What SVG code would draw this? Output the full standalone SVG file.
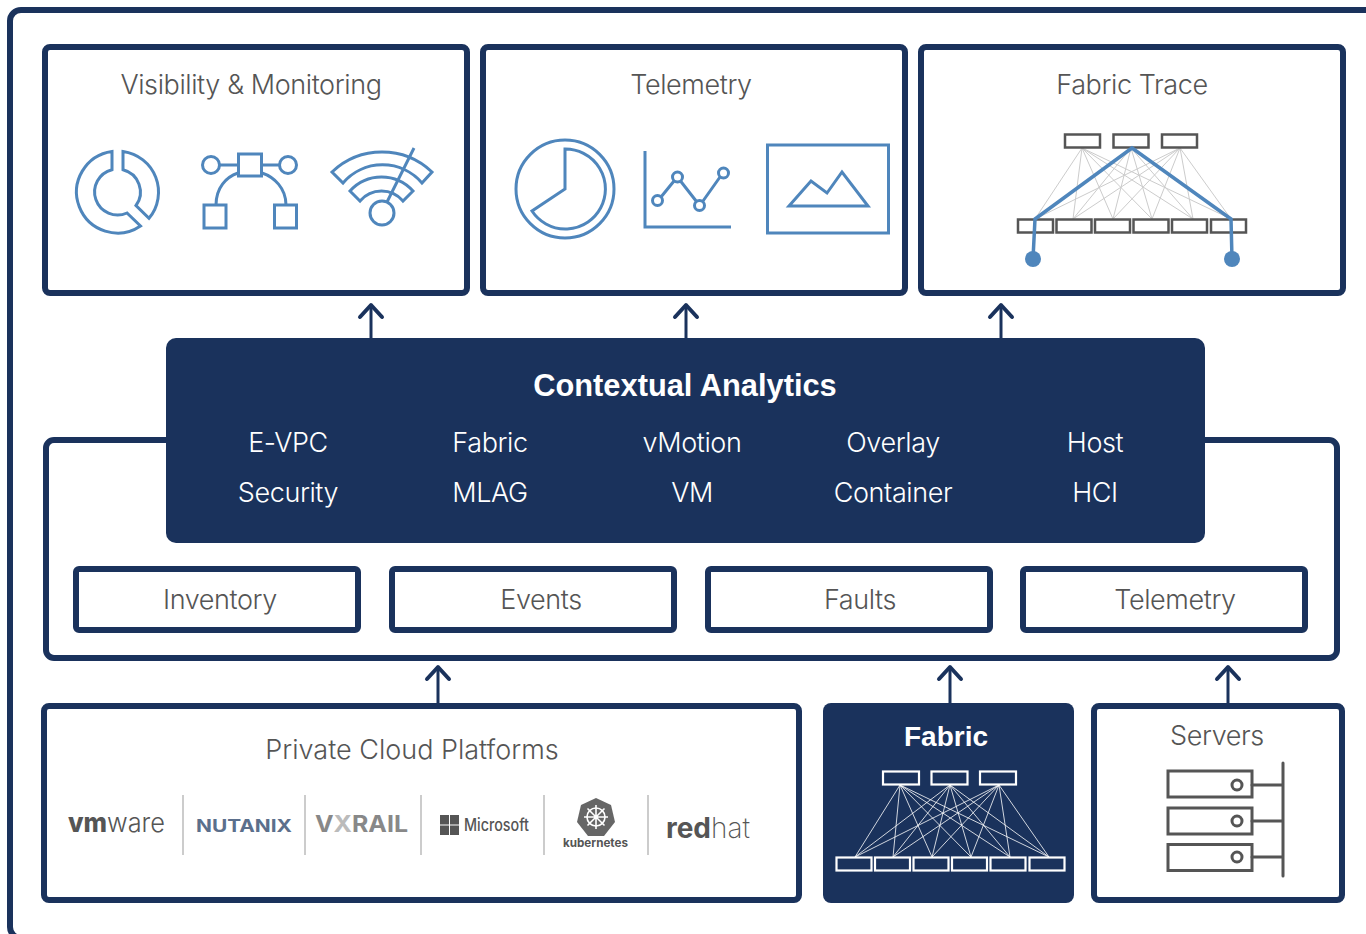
<svg xmlns="http://www.w3.org/2000/svg" width="1366" height="934" viewBox="0 0 1366 934">
<defs>
<marker id="chev" markerUnits="userSpaceOnUse" markerWidth="30" markerHeight="20" viewBox="0 0 30 20" refX="15" refY="3" orient="0"><path d="M4,15 L15,3 L26,15" fill="none" stroke="#1a325c" stroke-width="4" stroke-linecap="round" stroke-linejoin="round"/></marker>
</defs>
<style>
.box{fill:#fff;stroke:#1a325c;stroke-width:6}
.dark{fill:#1a325c}
.t{font-family:"Inter","Liberation Sans",sans-serif;font-weight:300;font-size:27px;letter-spacing:-0.4px;fill:#555;text-anchor:middle}
.w{font-family:"Inter","Liberation Sans",sans-serif;font-weight:300;font-size:27px;letter-spacing:-0.4px;fill:#fff;text-anchor:middle}
.b{font-family:"Liberation Sans",Arial,sans-serif;font-weight:700;fill:#fff;text-anchor:middle}
.ic{fill:none;stroke:#4f86bc;stroke-width:3}
.sw{fill:none;stroke:#555;stroke-width:2.5}
.wsw{fill:none;stroke:#fff;stroke-width:2.2}
.conn{stroke:#1a325c;stroke-width:3;fill:none;marker-end:url(#chev)}
.div{stroke:#ccc;stroke-width:2}
.lg{font-family:"Inter","Liberation Sans",sans-serif}
</style>
<rect width="1366" height="934" fill="#fff"/>
<rect id="frame" x="10" y="10" width="1400" height="928" rx="11" fill="#fff" stroke="#1a325c" stroke-width="6"/>

<g id="connectors">
<line class="conn" x1="371" y1="338" x2="371" y2="305"/>
<line class="conn" x1="686" y1="338" x2="686" y2="305"/>
<line class="conn" x1="1001" y1="338" x2="1001" y2="305"/>
<line class="conn" x1="438" y1="706" x2="438" y2="667"/>
<line class="conn" x1="950" y1="706" x2="950" y2="667"/>
<line class="conn" x1="1228" y1="706" x2="1228" y2="667"/>
</g>

<g id="visibility">
<rect class="box" x="45" y="47" width="422" height="246" rx="5"/>
<text class="t" x="251" y="94">Visibility &amp; Monitoring</text>
<path class="ic" d="M123,151.400 A41,41 0 0 1 149,218.300 L136,205.500 A23,23 0 0 0 123,169.700 Z"/>
<path class="ic" d="M112,151.400 A41,41 0 1 0 140.500,226 L127,213 A23,23 0 1 1 112,169.700 Z"/>
<circle class="ic" cx="211" cy="165" r="8.500"/><circle class="ic" cx="288" cy="165" r="8.500"/>
<rect class="ic" x="238.500" y="154" width="23" height="22"/>
<path class="ic" d="M220,165 H238 M262,165 H280 M216,205 C216,188 226,177 238,173 M262,173 C274,177 286,188 286,205"/>
<rect class="ic" x="204" y="205" width="22" height="23"/><rect class="ic" x="274.500" y="205" width="22" height="23"/>
<path class="ic" d="M332,172 A72.500,72.500 0 0 1 432,172 L422,183 A52,52 0 0 0 343,183 Z"/>
<path class="ic" d="M350,191 A42.400,42.400 0 0 1 413,191 L403,201 A28,28 0 0 0 360,201 Z"/>
<circle class="ic" cx="382" cy="213" r="12"/>
<path class="ic" d="M414,148 L387,202"/>
</g>

<g id="telemetry-top">
<rect class="box" x="483" y="47" width="422" height="246" rx="5"/>
<text class="t" x="691" y="94">Telemetry</text>
<circle class="ic" cx="565" cy="189" r="49"/>
<path class="ic" d="M565,149 A40,40 0 1 1 532,211 L565,189 Z"/>
<path class="ic" d="M645,151 V227 H731"/>
<circle class="ic" cx="657.500" cy="200.500" r="5"/><circle class="ic" cx="677.500" cy="177" r="5"/><circle class="ic" cx="699.500" cy="205.500" r="5"/><circle class="ic" cx="723.500" cy="173" r="5"/>
<path class="ic" d="M661,197 L674,181 M680.500,181 L696.500,201.500 M703,201 L720,177"/>
<rect class="ic" x="767.500" y="145" width="121" height="88"/>
<path class="ic" d="M789,206 L811,181 L827,193 L842,172 L868,206 Z"/>
</g>

<g id="fabric-trace">
<rect class="box" x="921" y="47" width="422" height="246" rx="5"/>
<text class="t" x="1132" y="94">Fabric Trace</text>
<path fill="none" stroke="#ccc" stroke-width="1" d="M1082,148L1035,219M1082,148L1073,219M1082,148L1113,219M1082,148L1152,219M1082,148L1193,219M1082,148L1231,219M1131,148L1035,219M1131,148L1073,219M1131,148L1113,219M1131,148L1152,219M1131,148L1193,219M1131,148L1231,219M1180,148L1035,219M1180,148L1073,219M1180,148L1113,219M1180,148L1152,219M1180,148L1193,219M1180,148L1231,219"/>
<g class="sw">
<rect x="1065" y="134.500" width="35" height="13"/><rect x="1113.500" y="134.500" width="35" height="13"/><rect x="1162" y="134.500" width="35" height="13"/>
<rect x="1018" y="219.500" width="35" height="13"/><rect x="1056.500" y="219.500" width="35" height="13"/><rect x="1095" y="219.500" width="35" height="13"/><rect x="1133.500" y="219.500" width="35" height="13"/><rect x="1172" y="219.500" width="35" height="13"/><rect x="1211" y="219.500" width="35" height="13"/>
</g>
<path fill="none" stroke="#4f86bc" stroke-width="3.500" d="M1033,259 L1035,219 L1132,148 L1231,219 L1232,259"/>
<circle cx="1033" cy="259" r="8" fill="#4f86bc"/><circle cx="1232" cy="259" r="8" fill="#4f86bc"/>
</g>

<g id="platform">
<rect class="box" x="46" y="440" width="1291" height="218" rx="8"/>
</g>

<g id="contextual-analytics">
<rect class="dark" x="166" y="338" width="1039" height="205" rx="10"/>
<text class="b" x="685" y="396" font-size="30.800">Contextual Analytics</text>
<text class="w" x="288" y="452">E-VPC</text><text class="w" x="490" y="452">Fabric</text><text class="w" x="692" y="452">vMotion</text><text class="w" x="893" y="452">Overlay</text><text class="w" x="1095" y="452">Host</text>
<text class="w" x="288" y="502">Security</text><text class="w" x="490" y="502">MLAG</text><text class="w" x="692" y="502">VM</text><text class="w" x="893" y="502">Container</text><text class="w" x="1095" y="502">HCI</text>
</g>

<g id="inventory"><rect class="box" x="76" y="569" width="282" height="61" rx="3"/><text class="t" x="220" y="609">Inventory</text></g>
<g id="events"><rect class="box" x="392" y="569" width="282" height="61" rx="3"/><text class="t" x="541" y="609">Events</text></g>
<g id="faults"><rect class="box" x="708" y="569" width="282" height="61" rx="3"/><text class="t" x="860" y="609">Faults</text></g>
<g id="telemetry"><rect class="box" x="1023" y="569" width="282" height="61" rx="3"/><text class="t" x="1175" y="609">Telemetry</text></g>

<g id="private-cloud">
<rect class="box" x="44" y="706" width="755" height="194" rx="5"/>
<text class="t" x="412" y="759" style="letter-spacing:0">Private Cloud Platforms</text>
<path class="div" d="M183,795V855M305,795V855M421,795V855M544,795V855M648,795V855"/>
<text class="lg" x="68" y="832" font-size="27" fill="#555" textLength="97" lengthAdjust="spacingAndGlyphs"><tspan font-weight="800">vm</tspan><tspan font-weight="300">ware</tspan></text>
<text class="lg" x="196" y="832" font-size="17" font-weight="700" fill="#5b6f8c" textLength="96" lengthAdjust="spacingAndGlyphs">NUTANIX</text>
<text class="lg" x="315" y="832" font-size="23" font-weight="700" fill="#888" textLength="93" lengthAdjust="spacingAndGlyphs">V<tspan fill="#bbb">X</tspan>RAIL</text>
<path fill="#555" d="M440,815h9v9.500h-9zM450,815h9v9.500h-9zM440,825.500h9v9.500h-9zM450,825.500h9v9.500h-9z"/>
<text class="lg" x="464" y="831" font-size="17" font-weight="500" fill="#555" textLength="65" lengthAdjust="spacingAndGlyphs">Microsoft</text>
<path fill="#666" d="M596,798 L611,805 L615,822 L604,836 L588,836 L577,822 L581,805 Z"/>
<g fill="none" stroke="#fff" stroke-width="1.600"><circle cx="596" cy="817" r="9"/><path d="M596,805V829M584,817H608M587.500,808.500L604.500,825.500M604.500,808.500L587.500,825.500"/></g>
<text class="lg" x="563" y="847" font-size="12" font-weight="700" fill="#555" textLength="65" lengthAdjust="spacingAndGlyphs">kubernetes</text>
<text class="lg" x="666" y="838" font-size="28" fill="#555" textLength="84" lengthAdjust="spacingAndGlyphs"><tspan font-weight="700">red</tspan><tspan font-weight="200">hat</tspan></text>
</g>

<g id="fabric">
<rect class="dark" x="823" y="703" width="251" height="200" rx="8"/>
<text class="b" x="946" y="746" font-size="28">Fabric</text>
<path fill="none" stroke="#fff" stroke-width="0.800" d="M900,785L855,857M900,785L893,857M900,785L932,857M900,785L971,857M900,785L1010,857M900,785L1049,857M950,785L855,857M950,785L893,857M950,785L932,857M950,785L971,857M950,785L1010,857M950,785L1049,857M999,785L855,857M999,785L893,857M999,785L932,857M999,785L971,857M999,785L1010,857M999,785L1049,857"/>
<g class="wsw">
<rect x="883" y="771.500" width="36" height="13"/><rect x="931.500" y="771.500" width="36" height="13"/><rect x="980" y="771.500" width="36" height="13"/>
<rect x="836.500" y="857.500" width="35" height="13"/><rect x="875" y="857.500" width="35" height="13"/><rect x="913.500" y="857.500" width="35" height="13"/><rect x="952" y="857.500" width="35" height="13"/><rect x="990.500" y="857.500" width="35" height="13"/><rect x="1029.500" y="857.500" width="35" height="13"/>
</g>
</g>

<g id="servers">
<rect class="box" x="1094" y="706" width="248" height="194" rx="5"/>
<text class="t" x="1217" y="745">Servers</text>
<g fill="none" stroke="#555" stroke-width="3" stroke-linecap="round">
<rect x="1168" y="771" width="84" height="26"/><rect x="1168" y="808" width="84" height="26"/><rect x="1168" y="844.500" width="84" height="26"/>
<circle cx="1237" cy="785" r="5"/><circle cx="1237" cy="821" r="5"/><circle cx="1237" cy="857" r="5"/>
<path d="M1283,763V876M1252,785H1283M1252,821H1283M1252,857H1283"/>
</g>
</g>
</svg>
